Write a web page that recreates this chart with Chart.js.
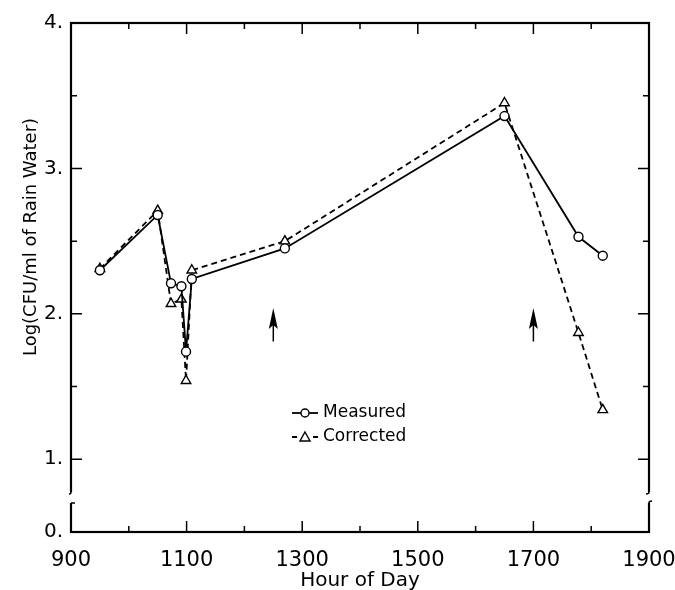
<!DOCTYPE html>
<html><head><meta charset="utf-8">
<script src="https://cdn.jsdelivr.net/npm/chart.js@4/dist/chart.umd.min.js"></script>
<style>html,body{margin:0;padding:0;background:#fff}#wrap{width:675px;height:590px}</style>
</head><body><div id="wrap"><canvas id="c" width="675" height="590"></canvas></div>
<script>
// ---- data ----
const hours     = [950, 1050, 1073, 1091, 1099, 1109, 1270, 1650, 1778, 1820];
const measured  = [2.30, 2.68, 2.21, 2.19, 1.74, 2.24, 2.45, 3.36, 2.53, 2.40];
const corrected = [2.31, 2.71, 2.07, 2.10, 1.54, 2.30, 2.50, 3.45, 1.87, 1.34];
const xTickLabels = ['900', '1100', '1300', '1500', '1700', '1900'];
const yTickValues = [0.5, 1, 2, 3, 4];
const yTickLabels = ['0.', '1.', '2.', '3.', '4.'];
const arrowHours = [1250, 1700];
const arrowSpan = [1.81, 2.04];
const seriesNames = ['Measured', 'Corrected'];

const FONT = "'DejaVu Sans', sans-serif";

const decor = {
  id: 'decor',
  afterDraw(chart) {
    const {ctx, chartArea: a, scales: {x, y}} = chart;
    ctx.save();
    ctx.strokeStyle = '#000';
    ctx.fillStyle = '#000';
    // frame
    ctx.lineWidth = 2.2;
    ctx.strokeRect(a.left, a.top, a.right - a.left, a.bottom - a.top);
    // inward ticks
    ctx.lineWidth = 1.5;
    ctx.beginPath();
    for (let h = 1000; h <= 1800; h += 100) {
      const px = x.getPixelForValue(h);
      const len = (h - 900) % 200 === 0 ? 11 : 6;
      ctx.moveTo(px, a.bottom); ctx.lineTo(px, a.bottom - len);
      ctx.moveTo(px, a.top); ctx.lineTo(px, a.top + len);
    }
    for (let v = 1; v <= 3.5; v += 0.5) {
      const py = y.getPixelForValue(v);
      const len = Number.isInteger(v) ? 11 : 6;
      ctx.moveTo(a.left, py); ctx.lineTo(a.left + len, py);
      ctx.moveTo(a.right, py); ctx.lineTo(a.right - len, py);
    }
    ctx.stroke();
    // axis breaks
    const b1 = a.bottom - 40, b2 = a.bottom - 29;
    ctx.fillStyle = '#fff';
    ctx.fillRect(a.left - 3, b1, 6, b2 - b1);
    ctx.fillRect(a.right - 3, b1, 6, b2 - b1);
    ctx.beginPath();
    ctx.lineWidth = 1.5;
    ctx.moveTo(a.left, b1); ctx.quadraticCurveTo(a.left, b1 + 2, a.left - 2, b1 + 2);
    ctx.moveTo(a.left, b2); ctx.lineTo(a.left + 4, b2);
    ctx.moveTo(a.right, b1); ctx.quadraticCurveTo(a.right, b1 + 2, a.right - 3, b1 + 2);
    ctx.moveTo(a.right, b2); ctx.quadraticCurveTo(a.right, b2 - 2, a.right + 3, b2 - 2);
    ctx.stroke();
    ctx.fillStyle = '#000';
    // arrows
    arrowHours.forEach(h => {
      const px = x.getPixelForValue(h);
      const yt = y.getPixelForValue(arrowSpan[1]);
      const yb = y.getPixelForValue(arrowSpan[0]);
      ctx.lineWidth = 1.5;
      ctx.beginPath(); ctx.moveTo(px, yb); ctx.lineTo(px, yt + 10); ctx.stroke();
      ctx.beginPath();
      ctx.moveTo(px, yt); ctx.lineTo(px + 4.5, yt + 21); ctx.lineTo(px, yt + 17); ctx.lineTo(px - 4.5, yt + 21);
      ctx.closePath(); ctx.fill();
    });
    // legend
    const lx = 292, ly1 = 413, ly2 = 437;
    ctx.lineWidth = 1.8;
    ctx.beginPath(); ctx.moveTo(lx, ly1); ctx.lineTo(lx + 26, ly1); ctx.stroke();
    ctx.beginPath(); ctx.arc(lx + 13, ly1, 4, 0, Math.PI * 2);
    ctx.fillStyle = '#fff'; ctx.fill(); ctx.lineWidth = 1.4; ctx.stroke();
    ctx.lineWidth = 1.8;
    ctx.beginPath(); ctx.moveTo(lx, ly2); ctx.lineTo(lx + 5, ly2); ctx.moveTo(lx + 21, ly2); ctx.lineTo(lx + 26, ly2); ctx.stroke();
    ctx.beginPath(); ctx.moveTo(lx + 13, ly2 - 5); ctx.lineTo(lx + 18, ly2 + 4); ctx.lineTo(lx + 8, ly2 + 4); ctx.closePath();
    ctx.fillStyle = '#fff'; ctx.fill(); ctx.lineWidth = 1.4; ctx.stroke();
    ctx.fillStyle = '#000';
    ctx.font = '17px ' + FONT;
    ctx.textAlign = 'left'; ctx.textBaseline = 'middle';
    ctx.fillText(seriesNames[0], lx + 31, ly1);
    ctx.fillText(seriesNames[1], lx + 31, ly2);
    // y title
    ctx.translate(31, 237);
    ctx.rotate(-Math.PI / 2);
    ctx.textAlign = 'center';
    ctx.font = '18px ' + FONT;
    ctx.fillText('Log(CFU/ml of Rain Water)', 0, 0);
    ctx.restore();
  }
};

new Chart(document.getElementById('c'), {
  type: 'line',
  data: {
    datasets: [
      {
        label: seriesNames[0],
        data: hours.map((h, i) => ({x: h, y: measured[i]})),
        borderColor: '#000', borderWidth: 1.8,
        pointStyle: 'circle', pointRadius: 4.5, pointBorderWidth: 1.4,
        pointBackgroundColor: '#fff', pointBorderColor: '#000',
        tension: 0
      },
      {
        label: seriesNames[1],
        data: hours.map((h, i) => ({x: h, y: corrected[i]})),
        borderColor: '#000', borderWidth: 1.8, borderDash: [6, 4],
        pointStyle: 'triangle', pointRadius: 5.5, pointBorderWidth: 1.4,
        pointBackgroundColor: '#fff', pointBorderColor: '#000',
        tension: 0
      }
    ]
  },
  options: {
    responsive: false,
    animation: false,
    clip: false,
    layout: {padding: {top: 23, right: 26, left: 0, bottom: 0}},
    plugins: {legend: {display: false}, tooltip: {enabled: false}},
    scales: {
      x: {
        type: 'linear', min: 900, max: 1900,
        grid: {display: false, drawTicks: false, tickLength: 0}, border: {display: false},
        afterBuildTicks: s => { s.ticks = []; for (let h = 900; h <= 1900; h += 100) s.ticks.push({value: h}); },
        ticks: {
          autoSkip: false, maxRotation: 0, color: '#000', padding: 16,
          font: {family: FONT, size: 21},
          callback: v => xTickLabels.includes(String(v)) ? String(v) : ''
        },
        title: {display: true, text: 'Hour of Day', color: '#000', font: {family: FONT, size: 20}, padding: {top: 0, bottom: -3}},
        afterFit: s => { s.height = 58; s.paddingLeft = 0; s.paddingRight = 0; }
      },
      y: {
        type: 'linear', min: 0.5, max: 4,
        grid: {display: false, drawTicks: false, tickLength: 0}, border: {display: false},
        afterBuildTicks: s => { s.ticks = yTickValues.map(v => ({value: v})); },
        ticks: {
          autoSkip: false, color: '#000', padding: 8,
          font: {family: FONT, size: 20},
          callback: v => { const i = yTickValues.indexOf(v); return i >= 0 ? yTickLabels[i] : ''; }
        },
        afterFit: s => { s.width = 71; s.paddingTop = 0; s.paddingBottom = 0; }
      }
    }
  },
  plugins: [decor]
});
</script>
</body></html>
